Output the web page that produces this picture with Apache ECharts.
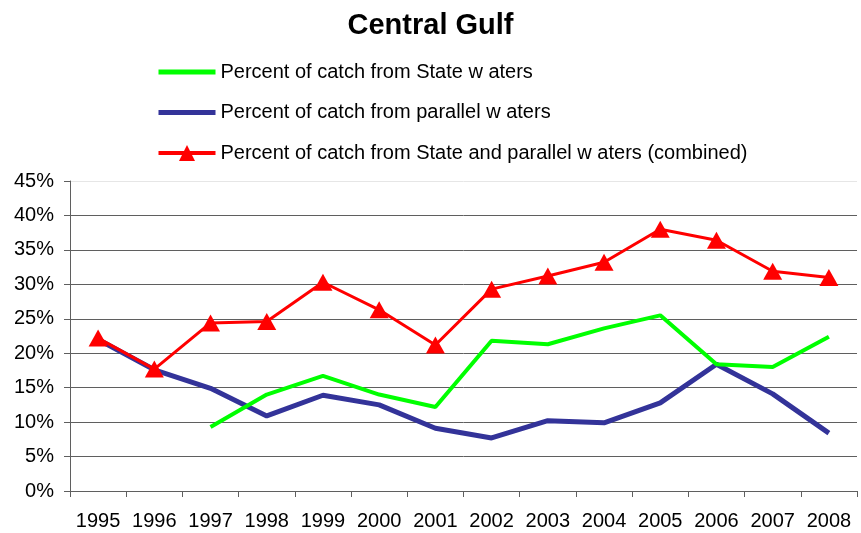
<!DOCTYPE html>
<html>
<head>
<meta charset="utf-8">
<script src="https://cdn.jsdelivr.net/npm/echarts@6/dist/echarts.min.js"></script>
<style>
  html, body { margin: 0; padding: 0; background: #fff; }
  #chart { width: 861px; height: 533px; }
</style>
</head>
<body>
<div id="chart"></div>
<script>
// years on the x axis
var years = ['1995', '1996', '1997', '1998', '1999', '2000', '2001',
             '2002', '2003', '2004', '2005', '2006', '2007', '2008'];

// percent values
var stateWaters = [null, null, 9.3, 14.0, 16.7, 14.0, 12.2, 21.8, 21.3, 23.6, 25.5, 18.4, 18.0, 22.4];
var parallelWaters = [22.0, 17.6, 14.9, 10.9, 13.9, 12.5, 9.1, 7.7, 10.2, 9.9, 12.8, 18.4, 14.1, 8.4];
var combined = [22.2, 17.7, 24.4, 24.6, 30.3, 26.3, 21.2, 29.3, 31.2, 33.2, 38.0, 36.4, 31.9, 31.0];

var names = [
    'Percent of catch from State w aters',
    'Percent of catch from parallel w aters',
    'Percent of catch from State and parallel w aters (combined)'
];

var chart = echarts.init(document.getElementById('chart'));
var font = 'Liberation Sans, Arial, sans-serif';
var gridGray = '#5f5f5f';

chart.setOption({
    animation: false,
    title: {
        text: 'Central Gulf',
        left: 'center',
        top: 6,
        textStyle: { fontFamily: font, fontSize: 29, fontWeight: 'bold', color: '#000' }
    },
    legend: {
        orient: 'vertical',
        left: 151,
        top: 57,
        itemGap: 20.5,
        itemWidth: 57,
        itemHeight: 20,
        textStyle: { fontFamily: font, fontSize: 20, color: '#000' },
        data: [
            { name: names[0], itemStyle: { opacity: 0 }, lineStyle: { width: 5 } },
            { name: names[1], itemStyle: { opacity: 0 }, lineStyle: { width: 5 } },
            { name: names[2], lineStyle: { width: 4 } }
        ]
    },
    grid: { left: 70, right: 4, top: 181, bottom: 42 },
    xAxis: {
        type: 'category',
        data: years,
        boundaryGap: true,
        axisLine: { lineStyle: { color: gridGray, width: 1 } },
        axisTick: { show: true, interval: 0, length: 6, lineStyle: { color: gridGray } },
        axisLabel: { interval: 0, fontFamily: font, fontSize: 20, color: '#000', margin: 20 }
    },
    yAxis: {
        type: 'value',
        min: 0,
        max: 45,
        interval: 5,
        axisLine: { show: true, lineStyle: { color: gridGray, width: 1 } },
        axisTick: { show: true, length: 6, lineStyle: { color: gridGray } },
        axisLabel: { fontFamily: font, fontSize: 20, color: '#000', margin: 16, formatter: '{value}%' },
        splitLine: {
            lineStyle: {
                color: [gridGray, gridGray, gridGray, gridGray, gridGray,
                        gridGray, gridGray, gridGray, gridGray, '#e6e6e6'],
                width: 1
            }
        }
    },
    series: [
        {
            name: names[0],
            type: 'line',
            data: stateWaters,
            symbol: 'none',
            lineStyle: { color: '#00ff00', width: 4 },
            itemStyle: { color: '#00ff00' },
            z: 3
        },
        {
            name: names[1],
            type: 'line',
            data: parallelWaters,
            symbol: 'none',
            lineStyle: { color: '#333399', width: 5 },
            itemStyle: { color: '#333399' },
            z: 2
        },
        {
            name: names[2],
            type: 'line',
            data: combined,
            symbol: 'triangle',
            symbolSize: [19, 17],
            lineStyle: { color: '#ff0000', width: 3 },
            itemStyle: { color: '#ff0000' },
            z: 4
        }
    ]
});
</script>
</body>
</html>
